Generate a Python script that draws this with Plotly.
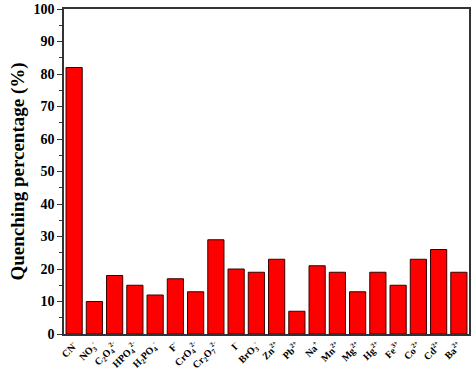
import plotly.graph_objects as go

categories = ["CN<sup>-</sup>", "NO<sub>3</sub><sup>-</sup>", "C<sub>2</sub>O<sub>4</sub><sup>2-</sup>",
              "HPO<sub>4</sub><sup>2-</sup>", "H<sub>2</sub>PO<sub>4</sub><sup>-</sup>", "F<sup>-</sup>",
              "CrO<sub>4</sub><sup>2-</sup>", "Cr<sub>2</sub>O<sub>7</sub><sup>2-</sup>", "I<sup>-</sup>",
              "BrO<sub>3</sub><sup>-</sup>", "Zn<sup>2+</sup>", "Pb<sup>2+</sup>", "Na<sup>+</sup>",
              "Mn<sup>2+</sup>", "Mg<sup>2+</sup>", "Hg<sup>2+</sup>", "Fe<sup>3+</sup>",
              "Co<sup>2+</sup>", "Cd<sup>2+</sup>", "Ba<sup>2+</sup>"]
values = [82, 10, 18, 15, 12, 17, 13, 29, 20, 19, 23, 7, 21, 19, 13, 19, 15, 23, 26, 19]
y_ticks = [0, 10, 20, 30, 40, 50, 60, 70, 80, 90, 100]

labels = ["<b>%s</b>" % c for c in categories]
fig = go.Figure(go.Bar(
    x=labels, y=values,
    marker=dict(color="#ff0000", line=dict(color="#3a0000", width=1)),
))

font_family = "Liberation Serif"
fig.update_layout(
    width=474, height=375,
    margin=dict(l=64, r=5, t=9, b=41, autoexpand=False),
    plot_bgcolor="white", paper_bgcolor="white",
    bargap=0.2, showlegend=False,
    font=dict(family=font_family, color="black"),
)
fig.update_xaxes(
    type="category",
    tickangle=-45, tickfont=dict(size=10, family=font_family),
    showline=True, linecolor="#333", linewidth=1.5, mirror=True,
    ticks="", showgrid=False, automargin=False,
)
fig.update_yaxes(
    range=[0, 100], tickvals=y_ticks, ticktext=["<b>%d</b>" % v for v in y_ticks],
    tickfont=dict(size=14, family=font_family),
    ticks="outside", ticklen=5, tickwidth=1.2, tickcolor="#333",
    minor=dict(dtick=5, ticks="outside", ticklen=3, tickcolor="#333"),
    showline=True, linecolor="#333", linewidth=1.5, mirror=True,
    showgrid=False, zeroline=False, automargin=False,
    title=dict(text="<b>Quenching percentage (%)</b>", font=dict(size=19, family=font_family), standoff=4),
)
fig.write_html("out.html")
